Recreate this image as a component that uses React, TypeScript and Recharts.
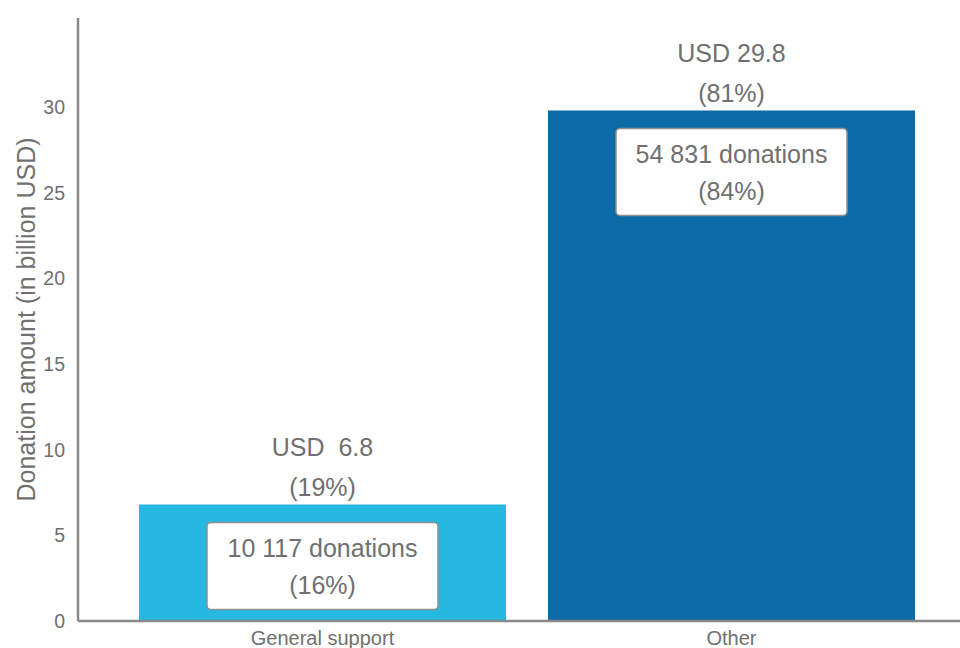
import React from 'react';
import { BarChart, Bar, XAxis, YAxis, Cell, LabelList, Label } from 'recharts';

const categories = ['General support', 'Other'];
const amounts = [6.8, 29.8];
const amountLabels = ['USD  6.8', 'USD 29.8'];
const amountShares = ['(19%)', '(81%)'];
const donationCounts = ['10 117 donations', '54 831 donations'];
const donationShares = ['(16%)', '(84%)'];
const barColors = ['#25B9E2', '#0C6AA6'];
const yTicks = [0, 5, 10, 15, 20, 25, 30];

const data = categories.map((name, i) => ({ name, amount: amounts[i] }));

const TEXT = '#707070';
const AXIS = '#898989';
const FONT = '"Liberation Sans", Arial, sans-serif';

function BarLabels(props: any) {
  const { x, y, width, index } = props;
  const cx = x + width / 2;
  const boxW = 231;
  const boxH = 87;
  const boxY = y + 18;
  return (
    <g fontFamily={FONT} fontSize={25} fill={TEXT} style={{ whiteSpace: 'pre' }}>
      <text x={cx} y={y - 58} textAnchor="middle" dominantBaseline="central" fill={TEXT} xmlSpace="preserve">
        {amountLabels[index]}
      </text>
      <text x={cx} y={y - 18} textAnchor="middle" dominantBaseline="central" fill={TEXT}>
        {amountShares[index]}
      </text>
      <rect x={cx - boxW / 2} y={boxY} width={boxW} height={boxH} rx={4} fill="#ffffff" stroke="#8f8f8f" strokeWidth={1.5} />
      <text x={cx} y={boxY + 25} textAnchor="middle" dominantBaseline="central" fill={TEXT}>
        {donationCounts[index]}
      </text>
      <text x={cx} y={boxY + 62} textAnchor="middle" dominantBaseline="central" fill={TEXT}>
        {donationShares[index]}
      </text>
    </g>
  );
}

export default function App() {
  return (
    <div style={{ position: 'absolute', left: 0, top: 0, width: 960, height: 648, background: '#fff' }}>
      <BarChart width={960} height={648} data={data} margin={{ top: 18, right: 0, bottom: 0, left: 0 }} barSize={367}>
        <XAxis
          dataKey="name"
          height={27}
          padding={{ left: 40, right: 24 }}
          axisLine={{ stroke: AXIS, strokeWidth: 2.5 }}
          tickLine={false}
          tickMargin={4}
          tick={{ fill: TEXT, fontSize: 20, fontFamily: FONT }}
        />
        <YAxis
          width={78}
          domain={[0, 35.2]}
          ticks={yTicks}
          axisLine={{ stroke: AXIS, strokeWidth: 2.5 }}
          tickLine={false}
          tickMargin={7}
          tick={{ fill: TEXT, fontSize: 19.5, fontFamily: FONT }}
        >
          <Label
            value="Donation amount (in billion USD)"
            angle={-90}
            position="center"
            dx={-13}
            style={{ fill: TEXT, fontSize: 25, fontFamily: FONT, textAnchor: 'middle' }}
          />
        </YAxis>
        <Bar dataKey="amount" isAnimationActive={false}>
          {data.map((d, i) => (
            <Cell key={d.name} fill={barColors[i]} />
          ))}
          <LabelList dataKey="amount" content={<BarLabels />} />
        </Bar>
      </BarChart>
    </div>
  );
}
